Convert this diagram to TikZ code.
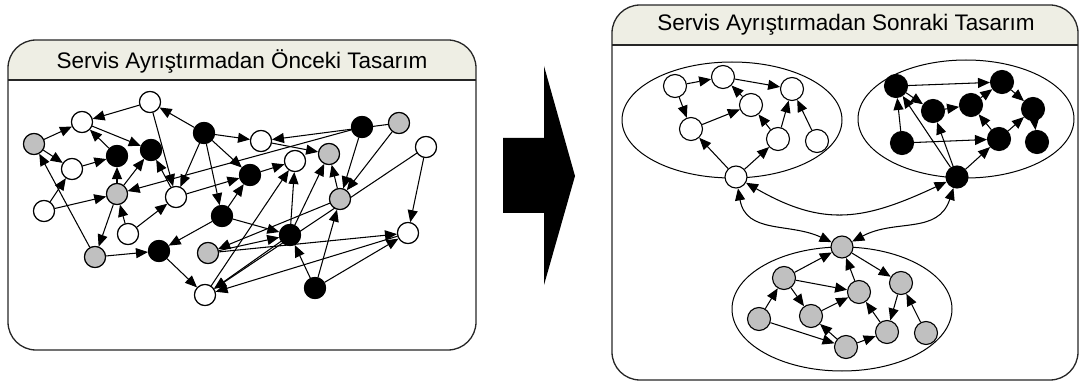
\documentclass[tikz,border=0pt]{standalone}
\usepackage{fontspec}
\setmainfont{Liberation Sans}
\usetikzlibrary{arrows.meta,shapes.geometric}
\definecolor{ng}{HTML}{C0C0C0}
\definecolor{hd}{HTML}{EEEEE4}
\tikzset{
  nd/.style={circle, draw=black, line width=1.1pt, minimum size=21pt, inner sep=0pt},
  wn/.style={nd, fill=white},
  bn/.style={nd, fill=black},
  gn/.style={nd, fill=ng},
  rn/.style={minimum size=23pt},
  ed/.style={-{Triangle[length=12pt,width=10pt]}, line width=1.05pt},
  dbl/.style={{Triangle[length=12pt,width=10pt]}-{Triangle[length=12pt,width=10pt]}, line width=1.05pt},
  hdtext/.style={font=\fontsize{22.5}{26}\selectfont, inner sep=0pt},
  grp/.style={ellipse, draw=black, line width=1pt, inner sep=0pt},
  panelline/.style={line width=1.3pt, draw=black!85},
}
\begin{document}
\begin{tikzpicture}[x=1pt,y=-1pt]
\useasboundingbox (0,0) rectangle (1080,385);
% ---------- left panel
\begin{scope}
\path[clip, rounded corners=28pt] (8,40) rectangle (476,350);
\fill[hd] (8,40) rectangle (476,80);
\end{scope}
\draw[panelline, rounded corners=28pt] (8,40) rectangle (476,350);
\draw[panelline] (8,80) -- (476,80);
\node[hdtext] (t1) at (242,61) {Servis Ayrıştırmadan Önceki Tasarım};
% ---------- right panel
\begin{scope}
\path[clip, rounded corners=28pt] (612,5) rectangle (1078,380);
\fill[hd] (612,5) rectangle (1078,45);
\end{scope}
\draw[panelline, rounded corners=28pt] (612,5) rectangle (1078,380);
\draw[panelline] (612,45) -- (1078,45);
\node[hdtext] (t2) at (846,25) {Servis Ayrıştırmadan Sonraki Tasarım};
% ---------- big arrow
\fill[black] (503,138) -- (544,138) -- (544,66) -- (575,176) -- (544,285) -- (544,213) -- (503,213) -- cycle;
% ---------- left nodes
\node[wn] (W1) at (150,102) {};
\node[wn] (W2) at (82,122) {};
\node[gn] (G1) at (34,144) {};
\node[bn] (B1) at (117,156) {};
\node[bn] (B2) at (151,150) {};
\node[bn] (B3) at (204,133) {};
\node[wn] (W3) at (72,169) {};
\node[gn] (G2) at (117,194) {};
\node[wn] (W4) at (176,197) {};
\node[wn] (W5) at (44,211) {};
\node[wn] (W6) at (261,141) {};
\node[bn] (B4) at (250,175) {};
\node[wn] (W7) at (295,161) {};
\node[bn] (B5) at (362,127) {};
\node[gn] (G3) at (399,123) {};
\node[gn] (G4) at (329,154) {};
\node[wn] (W8) at (426,147) {};
\node[gn] (G5) at (340,199) {};
\node[bn] (B6) at (222,216) {};
\node[wn] (W9) at (128,234) {};
\node[gn] (G6) at (95,257) {};
\node[bn] (B7) at (159,251) {};
\node[gn] (G7) at (208,253) {};
\node[wn] (W10) at (205,295) {};
\node[bn] (B8) at (290,235) {};
\node[wn] (W11) at (408,233) {};
\node[bn] (B9) at (315,288) {};
% ---------- left edges
\foreach \a/\b in {W1/W2,G1/W2,W2/B2,B1/W2,G1/W3,W3/B1,G2/B1,G2/B2,W4/B2,G6/G1,G2/G6,
  W5/W3,W5/G2,W9/G2,W9/W4,B5/G2,W4/B4,B3/W1,W1/W4,B3/W4,B3/B6,B3/W6,B3/B4,G3/W6,W6/G4,
  B4/W7,B6/B4,W10/W7,B8/W7,B8/G4,B9/G5,G5/G4,B5/G5,G3/G5,W8/W11,W8/W10,B8/W10,W11/W10,
  G5/G7,G6/B7,B6/B7,B7/W10,B6/B8,G7/B8,G7/W11,B9/W11,B9/B8}
  \draw[ed] (\a) -- (\b);
% redraw nodes on top of crossing connectors
\foreach \n/\s in {W1/wn,W2/wn,G1/gn,B1/bn,B2/bn,B3/bn,W3/wn,G2/gn,W4/wn,W5/wn,W6/wn,B4/bn,W7/wn,
  B5/bn,G3/gn,G4/gn,W8/wn,G5/gn,B6/bn,W9/wn,G6/gn,B7/bn,G7/gn,W10/wn,B8/bn,W11/wn,B9/bn}
  \path[\s] (\n.center) circle[radius=10.5pt];
% ---------- right groups
\node[grp, minimum width=220pt, minimum height=116pt] (E1) at (732,120) {};
\node[grp, minimum width=216pt, minimum height=118pt] (E2) at (966,119) {};
\node[grp, minimum width=220pt, minimum height=124pt] (E3) at (842,309) {};
% group 1 (white)
\node[wn,rn] (a1) at (675,86) {};
\node[wn,rn] (a2) at (723,77) {};
\node[wn,rn] (a3) at (792,89) {};
\node[wn,rn] (a4) at (751,105) {};
\node[wn,rn] (a5) at (691,129) {};
\node[wn,rn] (a6) at (778,139) {};
\node[wn,rn] (a7) at (817,141) {};
\node[wn,minimum size=22pt] (a8) at (736,177) {};
\foreach \a/\b in {a1/a2,a2/a3,a1/a5,a5/a4,a4/a2,a6/a4,a6/a3,a7/a3,a8/a5,a8/a6}
  \draw[ed] (\a) -- (\b);
% group 2 (black)
\node[bn,rn] (b1) at (896,86) {};
\node[bn,rn] (b2) at (1002,82) {};
\node[bn,rn] (b3) at (933,111) {};
\node[bn,rn] (b4) at (971,105) {};
\node[bn,rn] (b5) at (1033,109) {};
\node[bn,rn] (b6) at (902,143) {};
\node[bn,rn] (b7) at (999,139) {};
\node[bn,rn] (b8) at (1037,142) {};
\node[bn,minimum size=22pt] (b9) at (957,177) {};
\foreach \a/\b in {b1/b2,b1/b3,b3/b4,b4/b2,b2/b5,b7/b5,b7/b4,b6/b7,b6/b1,b9/b1,b9/b3,b9/b7,b5/b8}
  \draw[ed] (\a) -- (\b);
% group 3 (gray)
\node[gn,minimum size=22pt] (c0) at (842,247) {};
\node[gn,rn] (c1) at (784,278) {};
\node[gn,rn] (c2) at (859,292) {};
\node[gn,rn] (c3) at (901,283) {};
\node[gn,rn] (c4) at (759,319) {};
\node[gn,rn] (c5) at (811,316) {};
\node[gn,rn] (c6) at (846,347) {};
\node[gn,rn] (c7) at (887,332) {};
\node[gn,rn] (c8) at (926,333) {};
\foreach \a/\b in {c1/c0,c2/c0,c0/c3,c1/c2,c1/c5,c5/c2,c4/c1,c4/c6,c6/c5,c6/c7,c7/c2,c3/c7,c8/c3}
  \draw[ed] (\a) -- (\b);
% inter-group links
\draw[dbl] (a8) to[out=-30,in=-155,looseness=1.15] (b9);
\draw[dbl] (a8) to[out=-80,in=155,looseness=1.1] (c0);
\draw[dbl] (c0) to[out=28,in=-108,looseness=1.1] (b9);
\end{tikzpicture}
\end{document}
